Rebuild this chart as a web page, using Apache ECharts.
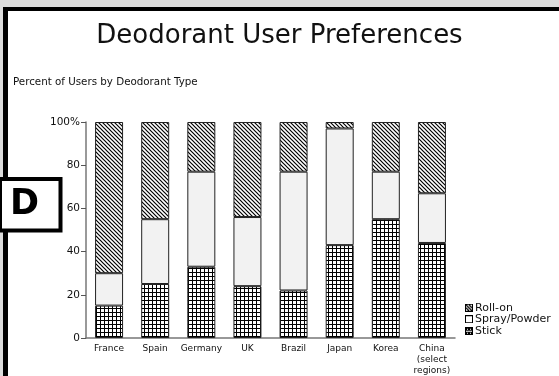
<!DOCTYPE html>
<html>
<head>
<meta charset="utf-8">
<script src="https://cdn.jsdelivr.net/npm/echarts@6/dist/echarts.min.js"></script>
<style>
  html, body { margin: 0; padding: 0; background: #dcdcdc; }
  #chart { width: 559px; height: 376px; }
</style>
</head>
<body>
<div id="chart"></div>
<script>
// Share of users by deodorant type, per country (percent, stacked to 100)
const countries = ['France', 'Spain', 'Germany', 'UK', 'Brazil', 'Japan', 'Korea', 'China\n(select\nregions)'];
const stick  = [15, 25, 33, 24, 22, 43, 55, 44];
const spray  = [15, 30, 44, 32, 55, 54, 22, 23];
const rollOn = [70, 45, 23, 44, 23,  3, 23, 33];
const yTicks = [0, 20, 40, 60, 80, 100];

const FONT = 'DejaVu Sans, Verdana, sans-serif';

// Diagonal hatch fill for roll-on
function hatchTile() {
  const n = 4, c = document.createElement('canvas');
  c.width = c.height = n;
  const g = c.getContext('2d');
  g.fillStyle = '#fff'; g.fillRect(0, 0, n, n);
  g.strokeStyle = '#000'; g.lineWidth = 1.2;
  g.beginPath();
  g.moveTo(-1, -1); g.lineTo(n + 1, n + 1);
  g.moveTo(n - 1, -1); g.lineTo(n + 1, 1);
  g.moveTo(-1, n - 1); g.lineTo(1, n + 1);
  g.stroke();
  return c;
}
// Square grid fill for stick
function gridTile() {
  const n = 4, c = document.createElement('canvas');
  c.width = c.height = n;
  const g = c.getContext('2d');
  g.fillStyle = '#fff'; g.fillRect(0, 0, n, n);
  g.fillStyle = '#000';
  g.fillRect(0, 0, n, 1);
  g.fillRect(0, 0, 1, n);
  return c;
}
// Small legend swatches
function swatch(kind) {
  const c = document.createElement('canvas');
  c.width = c.height = 8;
  const g = c.getContext('2d');
  g.fillStyle = '#fff'; g.fillRect(0, 0, 8, 8);
  g.fillStyle = '#000';
  if (kind === 'roll') {
    g.strokeStyle = '#000'; g.lineWidth = 1.2;
    g.beginPath(); g.moveTo(1, 1); g.lineTo(7, 7); g.moveTo(1, 4); g.lineTo(4, 7); g.moveTo(4, 1); g.lineTo(7, 4); g.stroke();
  } else if (kind === 'stick') {
    g.fillRect(0, 0, 8, 4);
    g.fillRect(0, 5, 8, 3);
    g.fillStyle = '#fff';
    g.fillRect(2, 2, 1, 1); g.fillRect(5, 2, 1, 1);
    g.fillRect(2, 6, 1, 1); g.fillRect(5, 6, 1, 1);
  }
  g.strokeStyle = '#000'; g.lineWidth = 1;
  g.strokeRect(0.5, 0.5, 7, 7);
  return 'image://' + c.toDataURL();
}

const rollFill  = { image: hatchTile(), repeat: 'repeat' };
const stickFill = { image: gridTile(), repeat: 'repeat' };
const sprayFill = '#f2f2f2';

const chart = echarts.init(document.getElementById('chart'), null, { renderer: 'canvas' });

const barStyle = (fill) => ({ color: fill, borderColor: '#222', borderWidth: 1 });

chart.setOption({
  animation: false,
  backgroundColor: '#dcdcdc',
  graphic: [
    // white panel with heavy black top/left edge
    { type: 'rect', z: -10, shape: { x: 8, y: 11, width: 560, height: 380 }, style: { fill: '#fff' } },
    { type: 'rect', z: -9, shape: { x: 3, y: 7, width: 560, height: 4 }, style: { fill: '#000' } },
    { type: 'rect', z: -9, shape: { x: 3, y: 7, width: 5, height: 380 }, style: { fill: '#000' } },
    // section badge
    { type: 'rect', z: 100, shape: { x: 0, y: 179, width: 60.5, height: 51.5 }, style: { fill: '#fff', stroke: '#000', lineWidth: 4 } },
    { type: 'text', z: 101, left: 10, top: 187, style: { text: 'D', font: 'bold 35px ' + FONT, fill: '#000' } },
    // subtitle
    { type: 'text', left: 13, top: 77, style: { text: 'Percent of Users by Deodorant Type', font: '10.3px ' + FONT, fill: '#111' } }
  ],
  title: {
    text: 'Deodorant User Preferences',
    left: 'center',
    top: 18,
    textStyle: { fontFamily: FONT, fontSize: 26, fontWeight: 'normal', color: '#111' }
  },
  legend: {
    orient: 'vertical',
    left: 465,
    top: 302,
    padding: 0,
    itemWidth: 8,
    itemHeight: 8,
    itemGap: 0,
    textStyle: { fontFamily: FONT, fontSize: 11, lineHeight: 11.5, color: '#111', padding: [0, 0, 0, -3] },
    data: [
      { name: 'Roll-on', icon: swatch('roll') },
      { name: 'Spray/Powder', icon: swatch('spray') },
      { name: 'Stick', icon: swatch('stick') }
    ]
  },
  grid: { left: 86, right: 104, top: 122, bottom: 37 },
  xAxis: {
    type: 'category',
    data: countries,
    axisLine: { lineStyle: { color: '#777', width: 1.5 } },
    axisTick: { show: false },
    axisLabel: { fontFamily: FONT, fontSize: 9, color: '#111', margin: 5, lineHeight: 11, interval: 0 }
  },
  yAxis: {
    type: 'value',
    min: 0,
    max: 100,
    interval: 20,
    splitLine: { show: false },
    axisLine: { show: true, lineStyle: { color: '#777', width: 1.5 } },
    axisTick: { show: true, length: 5, lineStyle: { color: '#555' } },
    axisLabel: {
      fontFamily: FONT, fontSize: 10.5, color: '#111', margin: 6,
      formatter: (v) => (yTicks.includes(v) ? (v === 100 ? v + '%' : String(v)) : '')
    }
  },
  series: [
    { name: 'Stick', type: 'bar', stack: 'all', barWidth: 28, data: stick, itemStyle: barStyle(stickFill) },
    { name: 'Spray/Powder', type: 'bar', stack: 'all', barWidth: 28, data: spray, itemStyle: barStyle(sprayFill) },
    { name: 'Roll-on', type: 'bar', stack: 'all', barWidth: 28, data: rollOn, itemStyle: barStyle(rollFill) }
  ]
});
</script>
</body>
</html>
